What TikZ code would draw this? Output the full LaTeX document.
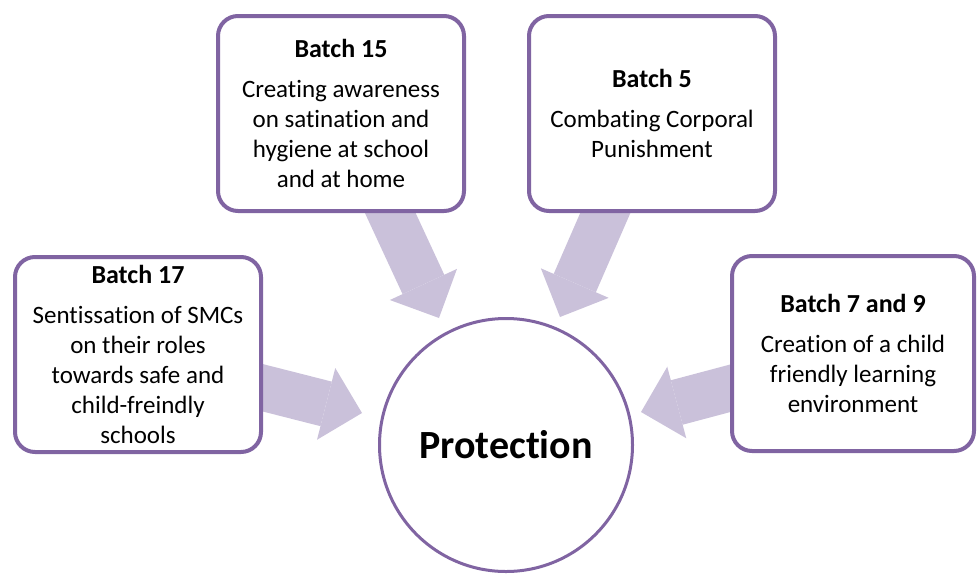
\documentclass[tikz,border=0pt]{standalone}
\usepackage{fontspec}
\setmainfont{Carlito}[Ligatures=NoCommon]
\usetikzlibrary{arrows.meta,calc,backgrounds}
\definecolor{batchline}{RGB}{128,100,162}
\definecolor{flowfill}{RGB}{202,193,218}
\newcommand\batchhead[1]{{\bfseries\fontsize{26}{30}\selectfont #1}\\[10pt]}

\begin{document}
\begin{tikzpicture}[x=1pt,y=-1pt]

\def\boxw{246pt}
\def\boxh{195pt}
\def\shaft{46pt}

\tikzset{batch/.style = {draw=batchline, line width=4pt, rounded corners=20pt, fill=white, minimum width=\boxw, minimum height=\boxh, align=center, inner sep=0pt, font=\fontsize{25}{30}\selectfont}}
\tikzset{flow/.style = {draw=flowfill, line width=\shaft, -{Triangle[width=74pt,length=37pt,line width=0pt]}}}

\useasboundingbox (0,0) rectangle (977,579);

\node[batch] (b15) at (341,113.5) {\batchhead{Batch 15}Creating awareness\\on satination and\\hygiene at school\\and at home};
\node[batch] (b5) at (652,113.5) {\batchhead{Batch 5}Combating Corporal\\Punishment};
\node[batch] (b17) at (138,354.5) {\batchhead{Batch 17}Sentissation of SMCs\\on their roles\\towards safe and\\child-freindly\\schools};
\node[batch, minimum width=242pt] (b79) at (853,353.5) {\batchhead{Batch 7 and 9}Creation of a child\\friendly learning\\environment};

\node[circle, draw=batchline, line width=3pt, fill=white, minimum size=253pt, font=\bfseries\fontsize{40}{48}\selectfont] (prot) at (506,445) {Protection};

\begin{scope}[on background layer]
\draw[flow] ($(b15.south)+(40,-20)$) -- ($(prot.center)+(-67,-127)$);
\draw[flow] ($(b5.south)+(-38,-20)$) -- ($(prot.center)+(54,-128)$);
\draw[flow] ($(b17.east)+(-19,28.5)$) -- ($(prot.center)+(-144,-32)$);
\draw[flow] ($(b79.west)+(20,29.5)$) -- ($(prot.center)+(135,-33)$);
\end{scope}

\end{tikzpicture}
\end{document}
